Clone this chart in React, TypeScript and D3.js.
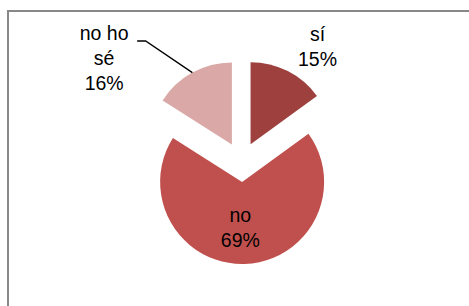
import React from "react";
import * as d3 from "d3";

// answers, in the order the pie runs clockwise from 12 o'clock
const categories = ["sí", "no", "no ho sé"];
const percents = [15, 69, 16];
const labelLines = [["sí"], ["no"], ["no ho", "sé"]];
const colors = ["#9D403E", "#C0504D", "#D9A8A7"];

const W = 469;
const H = 306;
const cx = 241.5;
const cy = 162;
const radius = 82;
const explode = 20;
const fontSize = 19.5;
const lineGap = 25;

// where each label sits (polar, around the pie centre) - Excel's "best fit"
const labelPolar = [
  { angle: 33.4, dist: 138 },
  { angle: 181, dist: 66 },
  { angle: -53, dist: 172 },
];

export default function App() {
  const data = categories.map((name, i) => ({ name, value: percents[i], i }));
  const pie = d3.pie<any>().sort(null).value((d) => d.value);
  const arcs = pie(data);
  const arc = d3.arc<any>().innerRadius(0).outerRadius(radius);

  const toXY = (deg: number, r: number) => {
    const a = (deg * Math.PI) / 180;
    return [r * Math.sin(a), -r * Math.cos(a)];
  };

  return (
    <svg
      width={W}
      height={H}
      style={{ position: "absolute", left: 0, top: 0, display: "block" }}
      fontFamily="'Liberation Sans', Arial, sans-serif"
    >
      <rect x={0} y={0} width={W} height={H} fill="#fff" />
      <rect x={8} y={11} width={W + 10} height={H + 10} fill="none" stroke="#888" strokeWidth={2} />
      <g transform={`translate(${cx},${cy})`}>
        {arcs.map((a) => {
          const mid = (a.startAngle + a.endAngle) / 2;
          const ox = explode * Math.sin(mid);
          const oy = -explode * Math.cos(mid);
          return (
            <path
              key={a.data.name}
              d={arc(a) as string}
              transform={`translate(${ox},${oy})`}
              fill={colors[a.data.i]}
            />
          );
        })}
        {arcs.map((a) => {
          const i = a.data.i;
          const [lx, ly] = toXY(labelPolar[i].angle, labelPolar[i].dist);
          const lines = [...labelLines[i], `${percents[i]}%`];
          const top = ly - ((lines.length - 1) * lineGap) / 2;
          return (
            <text
              key={"l" + a.data.name}
              x={lx}
              textAnchor="middle"
              fontSize={fontSize}
              fill="#000"
            >
              {lines.map((t, k) => (
                <tspan key={k} x={lx} y={top + k * lineGap} dy="0.35em">
                  {t}
                </tspan>
              ))}
            </text>
          );
        })}
        {(() => {
          // leader line for "no ho sé"
          const a = arcs[2];
          const mid = (a.startAngle + a.endAngle) / 2;
          const ox = explode * Math.sin(mid);
          const oy = -explode * Math.cos(mid);
          const ex = ox + radius * Math.sin(mid);
          const ey = oy - radius * Math.cos(mid);
          const [lx, ly] = toXY(labelPolar[2].angle, labelPolar[2].dist);
          const firstY = ly - lineGap + 7.5;
          const hx = lx + 41.5;
          return (
            <path
              d={`M${hx - 8.5},${firstY} L${hx},${firstY} L${ex},${ey}`}
              fill="none"
              stroke="#000"
              strokeWidth={1.3}
            />
          );
        })()}
      </g>
    </svg>
  );
}
